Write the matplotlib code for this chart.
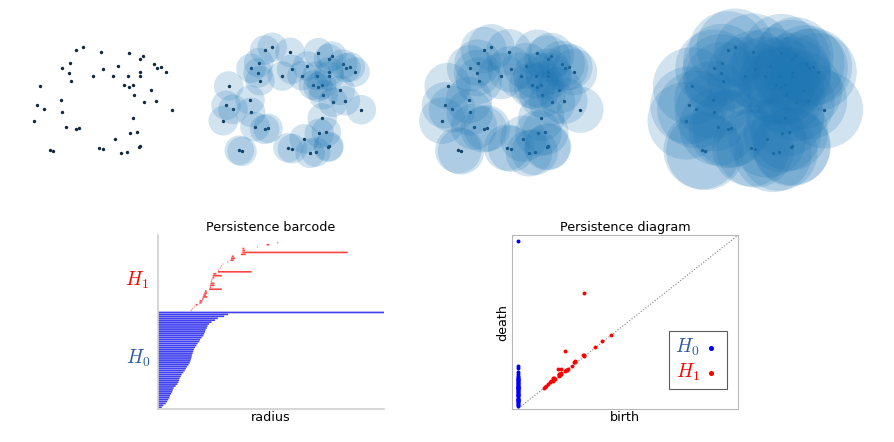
import numpy as np
import matplotlib
matplotlib.use("Agg")
import matplotlib.pyplot as plt
from matplotlib.patches import Circle

plt.rcParams['mathtext.fontset'] = 'cm'
plt.rcParams['font.family'] = ['DejaVu Sans']

# ---- point cloud ----
pts_x = [-0.683, -0.493, -0.050, 0.658, 0.918, 1.000, -0.833, -1.025, -0.850, -0.800,
         -0.008, -0.243, 0.383, 0.250, 0.633, 1.268, 1.350, 1.458, 1.575, 0.925,
         0.933, -1.583, 0.533, 0.650, 0.743, 1.208, 0.783, -1.050, 1.025, 1.333,
         -1.650, -1.475, -1.033, 1.733, -1.718, 0.758, -0.925, -0.683, -0.600, 0.683,
         0.858, 0.308, -1.318, -1.250, -0.100, 0.008, 0.450, 0.593, 0.908, 0.925]
pts_y = [1.250, 1.318, 1.193, 1.183, 1.033, 1.100, 0.933, 0.793, 0.675, 0.483,
         0.768, 0.600, 0.850, 0.608, 0.608, 0.900, 0.808, 0.825, 0.700, 0.708,
         0.600, 0.350, 0.368, 0.325, 0.375, 0.243, 0.133, 0.000, -0.058, -0.018,
         -0.133, -0.233, -0.308, -0.243, -0.518, -0.450, -0.668, -0.733, -0.708, -0.833,
         -0.800, -0.968, -1.258, -1.283, -1.193, -1.218, -1.333, -1.300, -1.183, -1.158]
radii = [0.0, 0.37, 0.58, 0.97]

# ---- persistence ----
h0_death = [0.247, 0.233, 0.211, 0.201, 0.189, 0.180, 0.175, 0.172, 0.168, 0.166,
            0.163, 0.160, 0.154, 0.149, 0.146, 0.140, 0.136, 0.131, 0.127, 0.125,
            0.123, 0.120, 0.119, 0.117, 0.115, 0.112, 0.108, 0.103, 0.099, 0.095,
            0.090, 0.084, 0.081, 0.077, 0.075, 0.073, 0.069, 0.063, 0.056, 0.053,
            0.051, 0.047, 0.043, 0.041, 0.037, 0.033, 0.028, 0.020, 0.014]
h0_inf_bar = 0.795
h0_inf_diag = 0.965
h1_birth = [0.116, 0.122, 0.127, 0.133, 0.146, 0.147, 0.156, 0.158, 0.160, 0.163,
            0.166, 0.180, 0.183, 0.184, 0.185, 0.187, 0.189, 0.192, 0.193, 0.195,
            0.211, 0.213, 0.218, 0.222, 0.228, 0.245, 0.255, 0.257, 0.260, 0.292,
            0.297, 0.297, 0.297, 0.350, 0.382, 0.420]
h1_death = [0.119, 0.124, 0.129, 0.140, 0.154, 0.157, 0.161, 0.174, 0.170, 0.173,
            0.172, 0.225, 0.187, 0.199, 0.199, 0.190, 0.192, 0.199, 0.225, 0.206,
            0.330, 0.215, 0.220, 0.224, 0.230, 0.247, 0.267, 0.271, 0.267, 0.309,
            0.667, 0.306, 0.304, 0.352, 0.391, 0.423]

W, H = 895, 442
fig = plt.figure(figsize=(W / 100, H / 100), dpi=100)


def rect(l, t, r, b):
    return [l / W, 1 - b / H, (r - l) / W, (b - t) / H]


panel_shift = [0, 189, 408, 652]
for r, sh in zip(radii, panel_shift):
    ax = fig.add_axes(rect(103 + sh - 110, 0, 103 + sh + 110, 200))
    ax.set_xlim(-2.75, 2.75)
    ax.set_ylim(-2.5, 2.5)
    ax.axis('off')
    ax.scatter(pts_x, pts_y, s=6, color='#10283f', zorder=1, lw=0, clip_on=False)
    if r > 0:
        for x, y in zip(pts_x, pts_y):
            ax.add_patch(Circle((x, y), r, facecolor='#1f77b4', alpha=0.2, lw=0,
                                clip_on=False, zorder=2))

# ---- barcode ----
blue_bar = '#4040f0'
red_bar = '#ff4444'
h0_label_col = '#2f5aa6'
axb = fig.add_axes(rect(157.7, 235, 384.3, 409.3))
n0 = len(h0_death)
h0_sorted = sorted(h0_death)
bk = dict(height=0.86, lw=0, snap=False)
axb.barh(np.arange(n0), h0_sorted, left=0, color=blue_bar, **bk)
axb.barh([n0], [h0_inf_bar], left=0, color=blue_bar, **bk)
y1 = np.arange(n0 + 1, n0 + 1 + len(h1_birth))
axb.barh(y1, np.array(h1_death) - np.array(h1_birth), left=h1_birth,
         color=red_bar, **bk)
axb.set_xlim(0, h0_inf_bar)
axb.set_ylim(-1, 89)
axb.set_xticks([])
axb.set_yticks([])
for s in ['top', 'right']:
    axb.spines[s].set_visible(False)
for s in ['left', 'bottom']:
    axb.spines[s].set_color('#d0d0d0')
    axb.spines[s].set_linewidth(1.2)
axb.set_title('Persistence barcode', fontsize=9.2, pad=3)
axb.set_xlabel('radius', fontsize=9.2, labelpad=1)
fig.text(137 / W, 1 - 280 / H, r'$H_1$', color='red', fontsize=14,
         ha='center', va='center')
fig.text(138 / W, 1 - 358 / H, r'$H_0$', color=h0_label_col, fontsize=14,
         ha='center', va='center')

# ---- diagram ----
axd = fig.add_axes(rect(511.7, 235, 738.3, 409.3))
axd.plot([0, 1], [0, 1], ls=':', color='gray', lw=0.8)
axd.scatter(np.zeros(n0 + 1), h0_death + [h0_inf_diag], s=8, color='blue',
            lw=0, label=r'$H_0$', zorder=3)
axd.scatter(h1_birth, h1_death, s=8, color='red', lw=0, label=r'$H_1$', zorder=3)
axd.set_xlim(-0.03, 1.0)
axd.set_ylim(-0.005, 1.0)
axd.set_xticks([])
axd.set_yticks([])
for s in axd.spines.values():
    s.set_color('#b8b8b8')
axd.set_title('Persistence diagram', fontsize=9.2, pad=3)
axd.set_xlabel('birth', fontsize=9.2, labelpad=1)
axd.set_ylabel('death', fontsize=9.2, labelpad=2)
leg = axd.legend(loc='lower right', bbox_to_anchor=(0.949, 0.115), borderaxespad=0,
                 markerfirst=False, fancybox=False, edgecolor='#333333',
                 fontsize=14, handlelength=1.0, handletextpad=0.1,
                 borderpad=0.3, labelspacing=0.2, markerscale=1.3)
leg.get_frame().set_linewidth(0.8)
for t, c in zip(leg.get_texts(), [h0_label_col, 'red']):
    t.set_color(c)

fig.savefig('out.png', dpi=100)
